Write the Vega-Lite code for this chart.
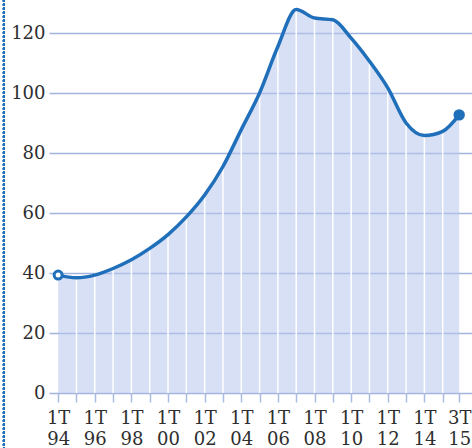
{
  "$schema": "https://vega.github.io/schema/vega-lite/v6.json",
  "width": 423,
  "height": 393,
  "autosize": {"type": "none"},
  "padding": {"left": 49, "top": 0, "right": 0, "bottom": 55},
  "background": "white",
  "config": {
    "view": {"stroke": null},
    "axis": {"labelFont": "DejaVu Serif", "labelFontSize": 18, "labelColor": "#2e2e2e", "title": null}
  },
  "data": {
    "values": [
      {"year": 1994, "value": 39.3, "point": "start"},
      {"year": 1995, "value": 38.4},
      {"year": 1996, "value": 39.3},
      {"year": 1997, "value": 41.5},
      {"year": 1998, "value": 44.4},
      {"year": 1999, "value": 48.2},
      {"year": 2000, "value": 52.8},
      {"year": 2001, "value": 58.7},
      {"year": 2002, "value": 66.0},
      {"year": 2003, "value": 75.5},
      {"year": 2004, "value": 87.8},
      {"year": 2005, "value": 100.0},
      {"year": 2006, "value": 115.5},
      {"year": 2007, "value": 127.8},
      {"year": 2008, "value": 125.0},
      {"year": 2009, "value": 124.4},
      {"year": 2010, "value": 118.3},
      {"year": 2011, "value": 110.6},
      {"year": 2012, "value": 101.7},
      {"year": 2013, "value": 90.0},
      {"year": 2014, "value": 85.8},
      {"year": 2015, "value": 87.2},
      {"year": 2015.9, "value": 92.7, "point": "end"}
    ]
  },
  "layer": [
    {
      "mark": {"type": "area", "interpolate": "monotone", "fill": "#b8c6ec", "opacity": 0.55},
      "encoding": {
        "x": {
          "field": "year",
          "type": "quantitative",
          "scale": {"domain": [1993.5, 2016.6], "nice": false, "zero": false},
          "axis": {
            "grid": false,
            "domain": false,
            "ticks": true,
            "tickColor": "#a9bbe3",
            "tickSize": 9,
            "tickWidth": 1.5,
            "tickCount": 40,
            "values": [1994, 1995, 1996, 1997, 1998, 1999, 2000, 2001, 2002, 2003, 2004, 2005, 2006, 2007, 2008, 2009, 2010, 2011, 2012, 2013, 2014, 2015, 2015.9],
            "labelExpr": "datum.value == 2015.9 ? ['3T', '15'] : (datum.value % 2 == 0 ? ['1T', substring(toString(datum.value), 2, 4)] : '')",
            "labelOverlap": false,
            "labelFlush": false,
            "labelBound": false,
            "labelPadding": 7,
            "labelLineHeight": 21
          }
        },
        "y": {
          "field": "value",
          "type": "quantitative",
          "scale": {"domain": [0, 131], "nice": false},
          "axis": {
            "grid": true,
            "gridColor": "#a3b4de",
            "gridWidth": 1.5,
            "domain": false,
            "ticks": false,
            "labelPadding": 4,
            "values": [0, 20, 40, 60, 80, 100, 120]
          }
        }
      }
    },
    {
      "transform": [{"filter": "datum.year > 1994 && datum.year < 2015.5"}],
      "mark": {"type": "rule", "color": "white", "strokeWidth": 1.5},
      "encoding": {
        "x": {"field": "year", "type": "quantitative"},
        "y": {"field": "value", "type": "quantitative"},
        "y2": {"datum": 0}
      }
    },
    {
      "mark": {"type": "line", "interpolate": "monotone", "color": "#1f6fba", "strokeWidth": 3.5},
      "encoding": {
        "x": {"field": "year", "type": "quantitative"},
        "y": {"field": "value", "type": "quantitative"}
      }
    },
    {
      "transform": [{"filter": "datum.point == 'start'"}],
      "mark": {"type": "point", "shape": "circle", "filled": true, "fill": "white", "stroke": "#1f6fba", "strokeWidth": 3, "size": 64, "opacity": 1},
      "encoding": {
        "x": {"field": "year", "type": "quantitative"},
        "y": {"field": "value", "type": "quantitative"}
      }
    },
    {
      "transform": [{"filter": "datum.point == 'end'"}],
      "mark": {"type": "point", "shape": "circle", "filled": true, "fill": "#1f6fba", "size": 130, "opacity": 1},
      "encoding": {
        "x": {"field": "year", "type": "quantitative"},
        "y": {"field": "value", "type": "quantitative"}
      }
    },
    {
      "mark": {"type": "rule", "color": "#1f6fba", "strokeWidth": 2, "strokeDash": [2, 2]},
      "encoding": {
        "x": {"datum": 1991.04, "type": "quantitative"},
        "y": {"datum": 131.1, "type": "quantitative"},
        "y2": {"datum": -18.3}
      }
    }
  ]
}
